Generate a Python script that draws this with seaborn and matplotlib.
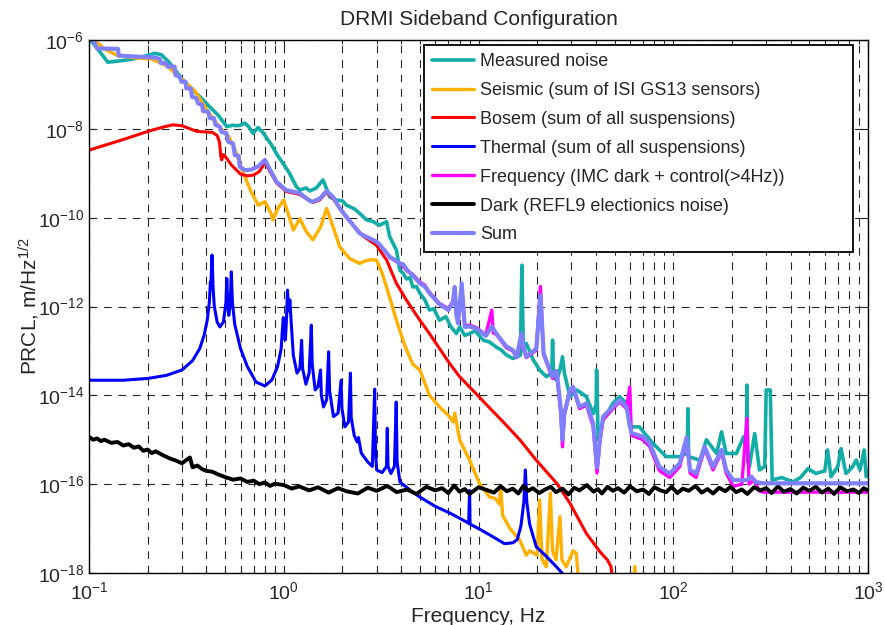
import numpy as np
import matplotlib
matplotlib.use("Agg")
import matplotlib.pyplot as plt
import seaborn as sns
from matplotlib.ticker import LogLocator, FixedLocator, NullLocator, NullFormatter

# amplitudes are given as log10(m/Hz^1/2)

meas_f = [0.1, 0.104, 0.125, 0.15, 0.172, 0.195, 0.218, 0.235, 0.26, 0.298, 0.34, 0.378, 0.42,
          0.46, 0.51, 0.545, 0.58, 0.607, 0.63, 0.66, 0.695, 0.738, 0.78, 0.865, 0.93, 1.0,
          1.07, 1.16, 1.21, 1.3, 1.36, 1.47, 1.59, 1.66, 1.72, 1.85, 2.0, 2.1, 2.3, 2.45, 2.66,
          2.85, 3.11, 3.37, 3.5, 3.79, 3.94, 4.1, 4.27, 4.45, 4.6, 4.8, 5.0, 5.3, 5.6, 5.9, 6.3,
          6.8, 7.2, 7.7, 8.0, 8.5, 9.0, 9.6, 10.6, 11.4, 12.3, 13.1, 13.9, 15.0, 16.4, 16.7,
          17.0, 17.6, 19.1, 20.6, 22.3, 23.8, 24.0, 24.3, 25.2, 26.2, 27.0, 27.6, 29.5, 32.0,
          35.8, 38.8, 40.2, 40.4, 40.8, 41.2, 43.6, 49.0, 53.0, 57.5, 59.8, 67.0, 78.5, 92.0,
          108.0, 118.0, 119.0, 120.0, 137.0, 148.0, 167.0, 177.0, 187.0, 211.0, 230.0, 237.0,
          239.0, 241.0, 246.0, 262.0, 277.0, 295.0, 300.0, 315.0, 322.0, 360.0, 412.0, 450.0,
          492.0, 540.0, 600.0, 620.0, 646.0, 700.0, 727.0, 770.0, 830.0, 870.0, 910.0, 955.0,
          980.0, 1000.0]
meas_amp = [-5.97, -6.05, -6.50, -6.46, -6.42, -6.36, -6.30, -6.33, -6.52, -6.86, -7.12, -7.31,
            -7.52, -7.69, -7.95, -7.92, -7.93, -7.91, -7.87, -7.95, -8.10, -7.97, -8.08, -8.36,
            -8.60, -8.80, -9.00, -9.30, -9.38, -9.33, -9.40, -9.33, -9.15, -9.35, -9.53, -9.60,
            -9.62, -9.72, -9.80, -9.90, -10.05, -10.08, -10.17, -10.09, -10.43, -10.73, -11.18,
            -11.25, -11.38, -11.35, -11.56, -11.55, -11.70, -11.85, -12.08, -12.05, -12.31,
            -12.23, -12.45, -12.61, -12.46, -12.65, -12.61, -12.55, -12.76, -12.80, -12.91,
            -12.98, -13.09, -13.17, -13.10, -11.07, -13.00, -12.83, -13.20, -13.43, -13.58,
            -13.50, -12.76, -13.60, -13.66, -13.43, -13.13, -13.50, -14.03, -13.88, -14.03,
            -14.41, -14.20, -13.43, -14.30, -15.00, -14.56, -14.18, -14.03, -14.18, -14.71,
            -14.71, -15.08, -15.38, -15.38, -15.30, -14.30, -15.38, -15.46, -15.00, -15.31,
            -14.82, -15.31, -15.31, -14.93, -15.20, -13.77, -15.50, -15.61, -14.86, -15.68,
            -15.60, -13.88, -13.88, -15.91, -15.85, -15.95, -15.85, -15.65, -15.76, -15.70,
            -15.23, -15.83, -15.60, -15.20, -15.76, -15.62, -15.46, -15.68, -15.23, -15.83,
            -15.70]

seis_f = [0.1, 0.12, 0.14, 0.17, 0.21, 0.25, 0.3, 0.35, 0.4, 0.46, 0.52, 0.56, 0.607, 0.68,
          0.74, 0.8, 0.86, 0.88, 0.93, 1.0, 1.12, 1.21, 1.3, 1.41, 1.55, 1.66, 1.79, 1.94, 2.18,
          2.45, 2.6, 2.76, 2.99, 3.2, 3.37, 3.79, 4.2, 4.6, 5.0, 5.6, 6.3, 7.0, 7.4, 7.55, 7.7,
          8.0, 9.0, 10.1, 11.4, 12.2, 12.8, 13.0, 13.3, 14.5, 16.3, 17.6, 18.3, 20.0, 20.6,
          21.2, 22.3, 23.4, 24.0, 25.0, 26.2, 26.8, 28.2, 30.6, 31.8, 32.5, 33.0, 62.0, 63.5,
          65.0]
seis_amp = [-5.90, -6.20, -6.35, -6.40, -6.43, -6.58, -6.88, -7.15, -7.55, -7.93, -8.16, -8.45,
            -8.89, -9.42, -9.72, -9.64, -9.90, -10.05, -9.80, -9.60, -10.28, -10.02, -10.30,
            -10.50, -10.20, -9.79, -10.20, -10.66, -10.92, -11.03, -10.98, -10.95, -10.95,
            -11.25, -11.56, -12.31, -12.90, -13.30, -13.43, -14.00, -14.26, -14.45, -14.60,
            -14.40, -14.60, -15.00, -15.46, -15.98, -16.29, -16.32, -16.45, -16.05, -16.70,
            -17.00, -17.26, -17.60, -17.50, -17.60, -16.36, -17.70, -17.86, -16.20, -17.50,
            -17.70, -16.73, -17.70, -17.86, -17.50, -17.56, -18.10, -18.50, -18.50, -17.85,
            -18.50]

bosem_f = [0.1, 0.15, 0.2, 0.24, 0.27, 0.3, 0.33, 0.36, 0.4, 0.43, 0.455, 0.468, 0.475, 0.48,
           0.49, 0.5, 0.54, 0.6, 0.65, 0.7, 0.75, 0.8, 0.865, 0.92, 1.03, 1.21, 1.41, 1.53,
           1.66, 1.79, 2.1, 2.55, 2.99, 3.37, 3.79, 4.27, 5.0, 5.6, 7.1, 8.0, 9.7, 11.5, 13.4,
           16.3, 19.8, 25.2, 29.5, 35.8, 42.0, 46.0, 47.9, 49.0]
bosem_amp = [-8.48, -8.24, -8.06, -7.96, -7.91, -7.93, -8.00, -8.06, -8.07, -8.08, -8.15, -8.30,
             -8.62, -8.70, -8.58, -8.62, -8.82, -9.02, -9.06, -9.04, -8.96, -8.76, -9.02, -9.22,
             -9.41, -9.48, -9.66, -9.60, -9.43, -9.57, -10.00, -10.41, -10.62, -10.95, -11.48,
             -11.86, -12.31, -12.61, -13.28, -13.58, -13.96, -14.30, -14.60, -15.00, -15.46,
             -15.98, -16.43, -17.11, -17.52, -17.71, -17.86, -18.20]

therm_f = [0.1, 0.15, 0.2, 0.25, 0.3, 0.34, 0.37, 0.39, 0.405, 0.415, 0.42, 0.422, 0.428,
           0.434, 0.44, 0.455, 0.47, 0.49, 0.505, 0.51, 0.515, 0.522, 0.53, 0.538, 0.545, 0.56,
           0.6, 0.65, 0.72, 0.8, 0.87, 0.93, 0.97, 0.985, 0.995, 1.005, 1.02, 1.035, 1.045,
           1.06, 1.075, 1.09, 1.12, 1.17, 1.21, 1.235, 1.25, 1.3, 1.35, 1.385, 1.4, 1.45, 1.5,
           1.545, 1.56, 1.6, 1.66, 1.7, 1.72, 1.8, 1.9, 1.97, 1.99, 2.06, 2.15, 2.2, 2.22, 2.3,
           2.38, 2.42, 2.5, 2.7, 2.85, 2.93, 2.96, 3.0, 3.2, 3.37, 3.4, 3.43, 3.55, 3.7, 3.78,
           3.82, 3.95, 4.5, 5.0, 6.0, 7.2, 8.5, 8.9, 9.0, 9.05, 10.0, 11.5, 13.6, 15.0, 15.8,
           16.5, 17.1, 17.4, 17.7, 18.3, 19.8, 22.0, 25.0, 27.5]
therm_amp = [-13.66, -13.66, -13.62, -13.55, -13.43, -13.22, -12.95, -12.65, -12.30, -11.90,
             -11.45, -11.60, -10.84, -11.60, -12.00, -12.35, -12.46, -12.35, -11.90, -11.37,
             -11.90, -12.20, -12.00, -11.22, -11.90, -12.40, -12.95, -13.35, -13.70, -13.79,
             -13.65, -13.35, -12.95, -12.50, -12.25, -12.70, -12.75, -12.20, -11.63, -12.10,
             -11.85, -12.30, -13.10, -13.50, -13.40, -12.76, -13.40, -13.75, -13.50, -12.42,
             -13.30, -13.88, -13.80, -13.43, -14.00, -14.26, -14.10, -13.02, -13.90, -14.48,
             -14.40, -13.66, -14.30, -14.71, -14.60, -13.50, -14.50, -14.90, -15.05, -14.95,
             -15.30, -15.50, -15.60, -13.86, -15.30, -15.68, -15.74, -15.60, -14.74, -15.60,
             -15.76, -15.60, -14.15, -15.50, -15.95, -16.15, -16.29, -16.50, -16.66, -16.83,
             -16.88, -16.14, -16.90, -17.00, -17.15, -17.34, -17.32, -17.25, -16.95, -16.40,
             -15.68, -16.40, -16.90, -17.41, -17.60, -17.85, -18.05]

freq_f = [3.5, 3.94, 4.3, 4.6, 5.0, 5.3, 5.6, 6.3, 7.0, 7.4, 7.55, 7.7, 7.85, 8.2, 8.5, 9.0,
          9.8, 10.9, 11.7, 11.9, 12.3, 13.9, 15.0, 15.7, 16.6, 17.0, 17.6, 19.8, 20.8, 21.6,
          24.0, 25.2, 26.5, 27.0, 27.6, 29.5, 30.6, 33.0, 35.8, 38.8, 40.6, 42.0, 43.6, 49.0,
          53.0, 57.5, 59.8, 61.0, 70.0, 75.6, 85.0, 96.0, 108.0, 117.0, 122.0, 131.0, 145.0,
          160.0, 177.0, 187.0, 203.0, 225.0, 239.0, 245.0, 262.0, 275.0, 290.0, 1000.0]
freq_amp = [-10.90, -11.02, -11.20, -11.28, -11.45, -11.52, -11.68, -11.93, -12.05, -11.88,
            -11.60, -12.18, -12.35, -11.55, -12.43, -12.42, -12.48, -12.64, -12.08, -12.60,
            -12.62, -12.93, -13.00, -13.15, -12.70, -12.95, -13.15, -12.98, -11.55, -13.08,
            -13.62, -13.50, -14.45, -15.16, -14.45, -13.90, -13.85, -14.30, -14.22, -14.70,
            -15.75, -15.05, -14.55, -14.30, -14.15, -14.30, -13.81, -14.90, -15.00, -15.15,
            -15.70, -15.85, -15.60, -15.00, -15.75, -15.85, -15.20, -15.68, -15.28, -15.75,
            -16.05, -16.00, -14.52, -16.00, -15.90, -16.15, -16.18, -16.18]

dark_f = [0.1, 0.105, 0.11, 0.115, 0.12, 0.13, 0.14, 0.15, 0.16, 0.17, 0.18, 0.19, 0.2, 0.21,
          0.22, 0.24, 0.26, 0.28, 0.3, 0.32, 0.33, 0.34, 0.36, 0.38, 0.4, 0.43, 0.46, 0.5, 0.55,
          0.6, 0.65, 0.7, 0.75, 0.8, 0.85, 0.9, 1.0, 1.1, 1.2, 1.35, 1.5, 1.7, 1.9, 2.1, 2.4,
          2.7, 3.0, 3.4, 3.8, 4.3, 4.8, 5.4, 6.0, 6.5, 7.0, 7.5, 8.0, 8.5, 9.0, 10.0, 11.0, 12.0,
          13.0, 14.0, 15.0, 16.0, 17.0, 18.0, 19.0, 20.5, 22.0, 23.5, 25.0, 27.0, 29.0, 31.0,
          33.0, 36.0, 39.0, 41.0, 43.0, 46.0, 49.0, 52.0, 56.0, 60.0, 65.0, 70.0, 75.0, 80.0,
          86.0, 92.0, 98.0, 105.0, 112.0, 120.0, 130.0, 140.0, 150.0, 160.0, 172.0, 185.0,
          197.0, 210.0, 225.0, 240.0, 260.0, 280.0, 300.0, 320.0, 345.0, 370.0, 400.0, 430.0,
          465.0, 500.0, 540.0, 580.0, 625.0, 670.0, 720.0, 780.0, 840.0, 900.0, 950.0, 1000.0]
dark_amp = [-14.93, -15.00, -14.97, -15.03, -15.00, -15.07, -15.05, -15.13, -15.10, -15.18,
            -15.15, -15.25, -15.22, -15.30, -15.26, -15.35, -15.42, -15.47, -15.53, -15.44,
            -15.40, -15.62, -15.58, -15.66, -15.70, -15.72, -15.78, -15.84, -15.90, -15.87,
            -15.95, -15.92, -16.00, -15.96, -16.04, -15.99,
            -16.02, -16.10, -16.05, -16.14, -16.07, -16.19, -16.09, -16.16, -16.21, -16.08,
            -16.15, -16.04, -16.18, -16.12, -16.22, -16.06, -16.14, -16.09, -16.20, -16.03,
            -16.17, -16.11, -16.22, -16.07, -16.13, -16.19, -16.05, -16.16, -16.10, -16.21,
            -16.04, -16.15, -16.09, -16.20, -16.12, -16.06, -16.18, -16.10, -16.23, -16.08,
            -16.14, -16.02, -16.17, -16.11, -16.21, -16.06, -16.15, -16.09, -16.19, -16.05,
            -16.16, -16.12, -16.22, -16.07, -16.14, -16.18, -16.06, -16.20, -16.10, -16.15,
            -16.04, -16.19, -16.11, -16.21, -16.08, -16.16, -16.06, -16.18, -16.12, -16.22,
            -16.07, -16.14, -16.09, -16.20, -16.05, -16.17, -16.11, -16.21, -16.08, -16.15,
            -16.06, -16.19, -16.10, -16.22, -16.07, -16.16, -16.12, -16.20, -16.09, -16.14]

sum_f = [0.105, 0.110, 0.141, 0.142, 0.222, 0.231, 0.234, 0.250, 0.253, 0.275, 0.278, 0.292,
         0.298, 0.313, 0.316, 0.333, 0.338, 0.356, 0.363, 0.380, 0.385, 0.409, 0.417, 0.438,
         0.446, 0.469, 0.479, 0.508, 0.518, 0.549, 0.560, 0.587, 0.594, 0.631, 0.68, 0.738,
         0.80, 0.865, 0.917, 1.03, 1.21, 1.36, 1.41, 1.53, 1.66, 1.79, 1.94, 2.1, 2.45, 2.55,
         2.99, 3.1, 3.5, 3.94, 4.1, 4.3, 4.6, 5.0, 5.3, 5.6, 6.3, 7.0, 7.4, 7.55, 7.7, 7.85,
         8.2, 8.5, 9.0, 9.8, 10.9, 11.7, 12.3, 13.9, 15.0, 15.7, 16.6, 17.0, 17.6, 19.8, 20.8,
         21.6, 24.0, 25.2, 26.5, 27.0, 27.6, 29.5, 30.6, 33.0, 35.8, 38.8, 40.6, 42.0, 43.6,
         49.0, 53.0, 57.5, 61.0, 70.0, 75.6, 85.0, 96.0, 108.0, 117.0, 122.0, 131.0, 145.0,
         160.0, 177.0, 187.0, 203.0, 239.0, 252.0, 265.0, 289.0, 1000.0]
sum_amp = [-5.98, -6.19, -6.20, -6.35, -6.40, -6.43, -6.52, -6.52, -6.60, -6.60, -6.79, -6.83,
           -6.94, -6.94, -7.09, -7.09, -7.28, -7.31, -7.43, -7.45, -7.60, -7.61, -7.76, -7.76,
           -7.91, -7.95, -8.07, -8.10, -8.29, -8.33, -8.59, -8.61, -8.85, -8.93, -8.92, -8.85,
           -8.70, -8.98, -9.19, -9.38, -9.45, -9.62, -9.64, -9.57, -9.40, -9.53, -9.79, -9.98,
           -10.35, -10.39, -10.54, -10.60, -10.88, -11.03, -11.05, -11.18, -11.30, -11.48,
           -11.55, -11.70, -11.95, -12.08, -11.90, -11.56, -12.20, -12.38, -11.48, -12.46,
           -12.45, -12.50, -12.66, -12.45, -12.60, -12.90, -12.98, -13.13, -12.61, -12.90,
           -13.13, -12.95, -11.75, -13.06, -13.58, -13.45, -14.33, -15.00, -14.40, -13.88,
           -13.81, -14.26, -14.18, -14.63, -15.62, -15.00, -14.48, -14.26, -14.11, -14.26,
           -14.85, -14.93, -15.08, -15.61, -15.76, -15.53, -14.95, -15.68, -15.76, -15.16,
           -15.61, -15.23, -15.68, -15.91, -15.91, -15.83, -15.95, -15.98, -15.98]

series = [
    ("Measured noise", meas_f, meas_amp, "#13ADA8", 2.6),
    ("Seismic (sum of ISI GS13 sensors)", seis_f, seis_amp, "#FFB000", 2.4),
    ("Bosem (sum of all suspensions)", bosem_f, bosem_amp, "#FF0000", 2.2),
    ("Thermal (sum of all suspensions)", therm_f, therm_amp, "#0000FF", 2.2),
    ("Frequency (IMC dark + control(>4Hz))", freq_f, freq_amp, "#FF00FF", 2.4),
    ("Dark (REFL9 electionics noise)", dark_f, dark_amp, "#000000", 2.8),
    ("Sum", sum_f, sum_amp, "#8080FF", 3.0),
]

sns.set_style("ticks")
plt.rcParams['font.family'] = ['Liberation Sans', 'DejaVu Sans']
plt.rcParams['mathtext.fontset'] = 'custom'
plt.rcParams['mathtext.rm'] = 'Liberation Sans'
plt.rcParams['mathtext.it'] = 'Liberation Sans:italic'
plt.rcParams['axes.unicode_minus'] = True

fig = plt.figure(figsize=(8.85, 6.25), dpi=100)
ax = fig.add_axes([89 / 885, 52 / 625, 779 / 885, 533 / 625])

for name, f, a, col, lw in series:
    sns.lineplot(x=np.array(f), y=10.0 ** np.array(a), ax=ax, color=col, lw=lw,
                 label=name, estimator=None, sort=False)

ax.set_xscale("log")
ax.set_yscale("log")
ax.set_xlim(0.1, 1000)
ax.set_ylim(1e-18, 1e-6)

ax.xaxis.set_major_locator(FixedLocator([0.1, 1, 10, 100, 1000]))
ax.xaxis.set_minor_locator(LogLocator(base=10, subs=np.arange(2, 10)))
ax.xaxis.set_minor_formatter(NullFormatter())
ax.yaxis.set_major_locator(FixedLocator([1e-18, 1e-16, 1e-14, 1e-12, 1e-10, 1e-8, 1e-6]))
ax.yaxis.set_minor_locator(NullLocator())

ax.set_axisbelow(True)
gkw = dict(color="k", lw=0.8, linestyle=(0, (7, 6)), alpha=0.85)
ax.grid(which="major", axis="both", **gkw)
ax.grid(which="minor", axis="x", **gkw)

ax.tick_params(which="both", direction="in", top=True, right=True, labelsize=14, width=0.8)
ax.tick_params(which="major", length=5)
ax.tick_params(which="minor", length=3)
ax.tick_params(axis="x", pad=6)
for sp in ax.spines.values():
    sp.set_linewidth(1.0)
    sp.set_color("k")

ax.set_title("DRMI Sideband Configuration", fontsize=15, pad=11)
ax.set_xlabel("Frequency, Hz", fontsize=15, labelpad=3)
ax.set_ylabel("PRCL, m/Hz$^{1/2}$", fontsize=15, labelpad=-3)

leg = ax.legend(loc="upper left", bbox_to_anchor=(0.430, 0.606, 0.551, 0.385), mode="expand",
                fancybox=False, edgecolor="k", framealpha=1, fontsize=13, handlelength=2.3,
                handletextpad=0.35, labelspacing=0.66, borderpad=0.45, borderaxespad=0)
leg.get_frame().set_linewidth(1.3)

fig.savefig("out.png", dpi=100)
